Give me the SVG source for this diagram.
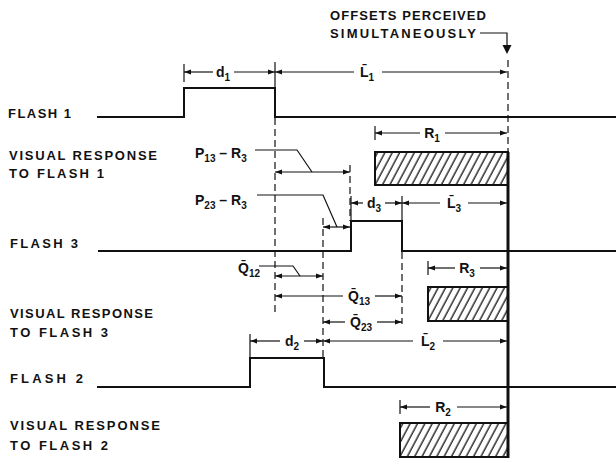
<svg xmlns="http://www.w3.org/2000/svg" width="616" height="458" viewBox="0 0 616 458">
<style>
text{font-family:"Liberation Sans",Arial,sans-serif;font-weight:bold;fill:#111}
.lbl{font-size:13px}
.pl{font-size:14px}
.dl{font-size:14px;text-anchor:middle}
.sub{font-size:10px}
.sig{fill:none;stroke:#111;stroke-width:2}
.dim{fill:none;stroke:#111;stroke-width:1.2}
.dimA{fill:none;stroke:#111;stroke-width:1.2;marker-end:url(#ah)}
.dimB{fill:none;stroke:#111;stroke-width:1.2;marker-start:url(#ah);marker-end:url(#ah)}
.dash{fill:none;stroke:#111;stroke-width:1.2;stroke-dasharray:7 4}
.box{fill:url(#hatch);stroke:#111;stroke-width:2}
</style>
<defs>
<marker id="ah" viewBox="0 0 10 10" refX="10" refY="5" markerWidth="7" markerHeight="7" markerUnits="userSpaceOnUse" orient="auto-start-reverse">
<path d="M0,1.5 L10,5 L0,8.5 z" fill="#111"/>
</marker>
<pattern id="hatch" patternUnits="userSpaceOnUse" width="6.5" height="10" patternTransform="rotate(28)">
<rect width="6.5" height="10" fill="#fff"/>
<line x1="2" y1="0" x2="2" y2="10" stroke="#111" stroke-width="1.3"/>
</pattern>
</defs>
<rect width="616" height="458" fill="#fff"/>

<g id="labels">
<text class="lbl" x="330" y="20" textLength="156" lengthAdjust="spacing">OFFSETS PERCEIVED</text>
<text class="lbl" x="330" y="38" textLength="146" lengthAdjust="spacing">SIMULTANEOUSLY</text>
<text class="lbl" x="8" y="118" textLength="63" lengthAdjust="spacing">FLASH 1</text>
<text class="lbl" x="9" y="160" textLength="148" lengthAdjust="spacing">VISUAL RESPONSE</text>
<text class="lbl" x="9" y="178" textLength="95" lengthAdjust="spacing">TO FLASH 1</text>
<text class="lbl" x="10" y="248" textLength="68" lengthAdjust="spacing">FLASH 3</text>
<text class="lbl" x="10" y="318" textLength="143" lengthAdjust="spacing">VISUAL RESPONSE</text>
<text class="lbl" x="10" y="337" textLength="98" lengthAdjust="spacing">TO FLASH 3</text>
<text class="lbl" x="10" y="383" textLength="73" lengthAdjust="spacing">FLASH 2</text>
<text class="lbl" x="10" y="430" textLength="150" lengthAdjust="spacing">VISUAL RESPONSE</text>
<text class="lbl" x="10" y="450" textLength="98" lengthAdjust="spacing">TO FLASH 2</text>
</g>

<g id="flash1">
<path class="sig" d="M97 117 H184 V88 H275 V117 H616"/>
</g>
<g id="flash3">
<path class="sig" d="M98 251 H351 V221 H402 V251 H616"/>
</g>
<g id="flash2">
<path class="sig" d="M97 387 H250 V358 H324 V387 H616"/>
</g>

<g id="response1"><rect class="box" x="375" y="152" width="133" height="33"/></g>
<g id="response3"><rect class="box" x="428" y="287" width="80" height="34"/></g>
<g id="response2"><rect class="box" x="400" y="423" width="108" height="34"/></g>

<g id="connectors">
<path class="dash" d="M508 60 V152"/>
<path d="M508 152 V458" stroke="#111" stroke-width="3" fill="none"/>
<path class="dim" d="M480 33 H507 V46"/>
<polygon points="502.5,45 511.5,45 507,54" fill="#111"/>

<path class="dim" d="M184 64 V82"/>
<path class="dim" d="M275 62 V88"/>
<path class="dash" d="M275 118 V316"/>
<path class="dash" d="M350 165 V221"/>
<path class="dim" d="M351 196 V221"/>
<path class="dim" d="M402 196 V221"/>
<path class="dash" d="M323 218 V358"/>
<path class="dash" d="M402 252 V324"/>
<path class="dim" d="M375 126 V140"/>
<path class="dim" d="M428 261 V275"/>
<path class="dim" d="M250 334 V358"/>
<path class="dim" d="M400 400 V414"/>

<path class="dimA" d="M213 72 H184"/>
<path class="dimA" d="M234 72 H275"/>
<path class="dimA" d="M354 72 H275"/>
<path class="dimA" d="M382 72 H507"/>
<path class="dimA" d="M420 133 H375"/>
<path class="dimA" d="M445 133 H507"/>
<path class="dim" d="M255 150 H297 L312 172"/>
<path class="dimB" d="M275 172 H350"/>
<path class="dim" d="M257 195 H323 L337 227"/>
<path class="dimB" d="M323 227 H350"/>
<path class="dimA" d="M363 203 H351"/>
<path class="dimA" d="M385 203 H402"/>
<path class="dimA" d="M440 203 H402"/>
<path class="dimA" d="M468 203 H507"/>
<path class="dimA" d="M455 268 H428"/>
<path class="dimA" d="M480 268 H507"/>
<path class="dim" d="M259 266 H293 L300 276"/>
<path class="dimB" d="M275 276 H323"/>
<path class="dimA" d="M343 296 H275"/>
<path class="dimA" d="M375 296 H402"/>
<path class="dimA" d="M345 322 H323"/>
<path class="dimA" d="M377 322 H402"/>
<path class="dimA" d="M280 341 H250"/>
<path class="dimA" d="M304 341 H323"/>
<path class="dimA" d="M413 341 H323"/>
<path class="dimA" d="M443 341 H507"/>
<path class="dimA" d="M430 407 H400"/>
<path class="dimA" d="M457 407 H507"/>
</g>

<g id="dimlabels">
<text class="dl" x="223" y="77">d<tspan class="sub" dy="4">1</tspan></text>
<text class="dl" x="367" y="77">L̄<tspan class="sub" dy="4">1</tspan></text>
<text class="dl" x="432" y="138">R<tspan class="sub" dy="4">1</tspan></text>
<text class="pl" x="195" y="158">P<tspan class="sub" dy="4">13</tspan><tspan dy="-4"> – R</tspan><tspan class="sub" dy="4">3</tspan></text>
<text class="pl" x="195" y="205">P<tspan class="sub" dy="4">23</tspan><tspan dy="-4"> – R</tspan><tspan class="sub" dy="4">3</tspan></text>
<text class="dl" x="374" y="208">d<tspan class="sub" dy="4">3</tspan></text>
<text class="dl" x="454" y="208">L̄<tspan class="sub" dy="4">3</tspan></text>
<text class="dl" x="467" y="273">R<tspan class="sub" dy="4">3</tspan></text>
<text class="pl" x="238" y="273">Q̄<tspan class="sub" dy="4">12</tspan></text>
<text class="dl" x="359" y="301">Q̄<tspan class="sub" dy="4">13</tspan></text>
<text class="dl" x="361" y="327">Q̄<tspan class="sub" dy="4">23</tspan></text>
<text class="dl" x="292" y="346">d<tspan class="sub" dy="4">2</tspan></text>
<text class="dl" x="428" y="346">L̄<tspan class="sub" dy="4">2</tspan></text>
<text class="dl" x="443" y="412">R<tspan class="sub" dy="4">2</tspan></text>
</g>
</svg>
